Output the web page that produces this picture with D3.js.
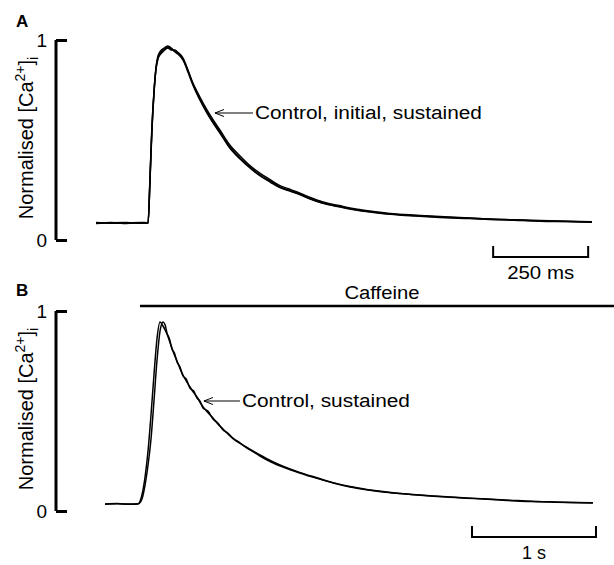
<!DOCTYPE html>
<html>
<head>
<meta charset="utf-8">
<script src="https://d3js.org/d3.v7.min.js"></script>
<style>
  body { margin: 0; background: #fff; }
  svg { display: block; font-family: "Liberation Sans", Arial, sans-serif; }
  .trace { fill: none; stroke: #000; stroke-width: 1.5; stroke-linejoin: round; }
  .axis path, .axis line { stroke: #000; stroke-width: 3; }
  .axis text { font-size: 19px; fill: #000; }
</style>
</head>
<body>
<div id="chart"></div>
<script>
// panel A, times in ms, normalised [Ca2+]i
var timesA = [0, 40, 80, 120, 137, 142, 147, 153, 158, 163, 170, 178, 189, 198, 208, 218, 229, 242, 255, 272,
  292, 310, 326, 350, 379, 405, 432, 458, 484, 506, 529, 560, 597, 640, 687, 730, 774, 840, 905, 970,
  1037, 1100, 1168, 1240, 1305];
var controlA = [0.085, 0.088, 0.083, 0.086, 0.085, 0.30, 0.55, 0.75, 0.86, 0.91, 0.935, 0.95, 0.965, 0.955, 0.945,
  0.935, 0.91, 0.85, 0.78, 0.71, 0.64, 0.585, 0.54, 0.47, 0.41, 0.365, 0.325, 0.295, 0.265, 0.25,
  0.235, 0.21, 0.185, 0.168, 0.15, 0.14, 0.13, 0.122, 0.115, 0.11, 0.105, 0.1, 0.095, 0.093, 0.09];
var initialA = [0.083, 0.086, 0.087, 0.084, 0.084, 0.29, 0.54, 0.745, 0.865, 0.92, 0.945, 0.958, 0.97, 0.96, 0.94,
  0.925, 0.9, 0.845, 0.785, 0.72, 0.65, 0.595, 0.55, 0.48, 0.42, 0.372, 0.333, 0.302, 0.272, 0.256,
  0.24, 0.215, 0.19, 0.172, 0.154, 0.143, 0.133, 0.124, 0.117, 0.111, 0.104, 0.101, 0.097, 0.094, 0.091];
var sustainedA = [0.087, 0.084, 0.086, 0.088, 0.086, 0.31, 0.56, 0.755, 0.855, 0.905, 0.93, 0.945, 0.96, 0.95, 0.95,
  0.93, 0.905, 0.84, 0.775, 0.705, 0.635, 0.58, 0.535, 0.465, 0.405, 0.36, 0.32, 0.29, 0.262, 0.247,
  0.232, 0.207, 0.183, 0.166, 0.149, 0.138, 0.129, 0.12, 0.113, 0.108, 0.103, 0.099, 0.094, 0.092, 0.089];

// panel B (caffeine)
var timesB = [0, 100, 200, 266, 298, 323, 347, 371, 395, 419, 444, 468, 485, 500, 520, 540, 560, 581, 605, 629,
  655, 685, 715, 742, 765, 790, 830, 871, 910, 952, 990, 1032, 1090, 1145, 1200, 1250, 1340, 1435, 1570, 1710,
  1840, 1976, 2110, 2242, 2380, 2516, 2650, 2782, 2915, 3048, 3190, 3323, 3460, 3589, 3760, 3935];
var sustainedB = [0.035, 0.037, 0.034, 0.035, 0.06, 0.13, 0.23, 0.36, 0.55, 0.75, 0.9, 0.945, 0.93, 0.89, 0.86,
  0.81, 0.79, 0.745, 0.72, 0.675, 0.66, 0.615, 0.6, 0.565, 0.55, 0.515, 0.5, 0.46, 0.44, 0.405,
  0.39, 0.365, 0.34, 0.315, 0.295, 0.275, 0.245, 0.22, 0.19, 0.163, 0.14, 0.12, 0.106, 0.095, 0.087,
  0.08, 0.074, 0.069, 0.064, 0.06, 0.055, 0.05, 0.047, 0.045, 0.042, 0.04];
var controlB = [0.034, 0.036, 0.035, 0.036, 0.08, 0.17, 0.30, 0.48, 0.68, 0.86, 0.945, 0.925, 0.905, 0.885, 0.85,
  0.815, 0.78, 0.75, 0.712, 0.68, 0.65, 0.62, 0.592, 0.57, 0.545, 0.522, 0.492, 0.465, 0.435, 0.41,
  0.386, 0.362, 0.338, 0.318, 0.298, 0.28, 0.25, 0.224, 0.193, 0.166, 0.142, 0.122, 0.108, 0.097, 0.088,
  0.081, 0.075, 0.07, 0.065, 0.061, 0.056, 0.052, 0.048, 0.046, 0.043, 0.041];

var yTicks = [0, 1];
var scaleA = [1045, 1295], scaleLabelA = "250 ms";
var scaleB = [2960, 3960], scaleLabelB = "1 s";
var caffeineStart = 282;

var W = 614, H = 565;
var svg = d3.select("#chart").append("svg").attr("width", W).attr("height", H);

var xA = d3.scaleLinear().domain([0, 1313]).range([96, 595]);
var yA = d3.scaleLinear().domain([0, 1]).range([240, 40]);
var xB = d3.scaleLinear().domain([0, 3952]).range([105, 595]);
var yB = d3.scaleLinear().domain([0, 1]).range([511, 311]);

function drawPanel(letter, letterY, x, y, times, series, scaleBar, scaleLabel, gapBar, ann) {
  var g = svg.append("g");
  g.append("text").attr("x", 16).attr("y", letterY)
    .attr("font-size", 17).attr("font-weight", "bold").text(letter);

  var axis = d3.axisLeft(y).tickValues(yTicks).tickFormat(d3.format("d"))
    .tickSize(-11).tickSizeOuter(0).tickPadding(9);
  g.append("g").attr("class", "axis").attr("transform", "translate(56,0)").call(axis)
    .call(function (a) { a.selectAll("path").attr("d", "M0," + y(0) + "V" + y(1)); });

  // y label
  var lbl = g.append("text")
    .attr("transform", "translate(33," + ((y(0) + y(1)) / 2 - 2) + ") rotate(-90)")
    .attr("text-anchor", "middle").attr("font-size", 20);
  lbl.append("tspan").text("Normalised [Ca");
  lbl.append("tspan").attr("dy", -8).attr("font-size", 14).text("2+");
  lbl.append("tspan").attr("dy", 8).text("]");
  lbl.append("tspan").attr("dy", 5).attr("font-size", 14).text("i");

  var line = d3.line().x(function (d, i) { return x(times[i]); }).y(function (d) { return y(d); })
    .curve(d3.curveMonotoneX);
  series.forEach(function (s) {
    g.append("path").attr("class", "trace").attr("d", line(s));
  });

  // scale bar
  var sy = y(0) + gapBar;
  g.append("path").attr("fill", "none").attr("stroke", "#000").attr("stroke-width", 2)
    .attr("d", "M" + x(scaleBar[0]) + "," + (sy - 11) + "V" + sy + "H" + x(scaleBar[1]) + "V" + (sy - 11));
  var st = g.append("text").attr("x", (x(scaleBar[0]) + x(scaleBar[1])) / 2).attr("y", sy + 22)
    .attr("text-anchor", "middle").attr("font-size", 18).text(scaleLabel);
  if (ann.scaleLen) st.attr("textLength", ann.scaleLen).attr("lengthAdjust", "spacingAndGlyphs");

  // annotation arrow
  var tx = x(ann.t), ty = y(ann.v);
  g.append("path").attr("fill", "none").attr("stroke", "#000").attr("stroke-width", 1)
    .attr("d", "M" + (tx + 9) + "," + (ty - 3.5) + "L" + tx + "," + ty + "L" + (tx + 9) + "," + (ty + 3.5)
      + "M" + tx + "," + ty + "H" + (tx + ann.len));
  g.append("text").attr("x", tx + ann.len + 2).attr("y", ty + 6).attr("font-size", 18)
    .attr("textLength", ann.textLen).attr("lengthAdjust", "spacingAndGlyphs").text(ann.text);
}

drawPanel("A", 27, xA, yA, timesA, [controlA, initialA, sustainedA], scaleA, scaleLabelA, 17,
  { t: 313, v: 0.635, len: 38, text: "Control, initial, sustained", textLen: 227, scaleLen: 67 });
drawPanel("B", 296, xB, yB, timesB, [controlB, sustainedB], scaleB, scaleLabelB, 26,
  { t: 798, v: 0.55, len: 36, text: "Control, sustained", textLen: 168, scaleLen: 0 });

// caffeine bar
svg.append("line").attr("x1", xB(caffeineStart)).attr("x2", W).attr("y1", 306).attr("y2", 306)
  .attr("stroke", "#000").attr("stroke-width", 2.5);
svg.append("text").attr("x", 382).attr("y", 299).attr("text-anchor", "middle").attr("font-size", 18)
  .attr("textLength", 75).attr("lengthAdjust", "spacingAndGlyphs").text("Caffeine");
</script>
</body>
</html>
